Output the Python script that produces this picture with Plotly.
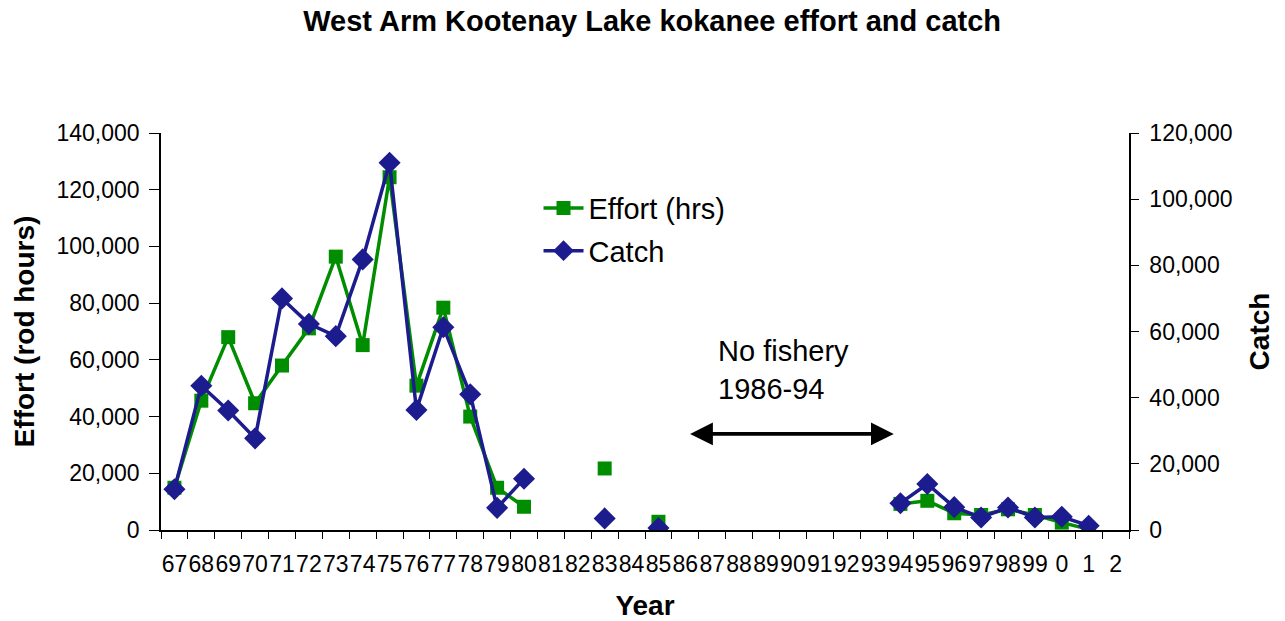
import plotly.graph_objects as go

# Season labels (two-digit years, 2000s written as 0, 1, 2)
years = [str(y) for y in range(67, 100)] + ["0", "1", "2"]

# Angler effort in rod hours (None = no survey / no fishery)
effort = [14900, 45600, 68000, 44700, 58000, 71100, 96400, 65200, 124400, 50900,
          78400, 40000, 14900, 8200, None, None, 21700, None, 2900,
          None, None, None, None, None, None, None, None,
          9200, 10300, 5900, 5300, 7300, 5300, 2600, 300, None]

# Kokanee catch (number of fish)
catch = [12300, 43600, 36100, 27700, 70000, 62300, 58600, 81800, 111000, 36300,
         61300, 41000, 6700, 15500, None, None, 3500, None, 600,
         None, None, None, None, None, None, None, None,
         8100, 13900, 6900, 3800, 6800, 3800, 4000, 1300, None]

FONT = "Liberation Sans, Arial, sans-serif"
GREEN = "#008E00"
NAVY = "#1C1C8E"
n = len(years)

fig = go.Figure()
fig.add_trace(go.Scatter(
    x=years, y=effort, name="Effort (hrs)", mode="lines+markers",
    line=dict(color=GREEN, width=3.5),
    marker=dict(symbol="square", size=14, color=GREEN),
    connectgaps=False, legendgroup="a", yaxis="y"))
fig.add_trace(go.Scatter(
    x=years, y=catch, name="Catch", mode="lines+markers",
    line=dict(color=NAVY, width=3.5),
    marker=dict(symbol="diamond", size=17, color=NAVY),
    connectgaps=False, legendgroup="b", yaxis="y2"))

tickfont = dict(family=FONT, size=23, color="black")
titlefont = dict(family=FONT, size=28, color="black", weight="bold")

fig.update_layout(
    width=1285, height=621,
    margin=dict(l=161, r=156, t=133, b=91),
    paper_bgcolor="white", plot_bgcolor="white",
    title=dict(text="<b>West Arm Kootenay Lake kokanee effort and catch</b>",
               x=0.5075, xanchor="center", y=0.967, yanchor="middle",
               font=dict(family=FONT, size=29, color="black")),
    xaxis=dict(type="category", categoryorder="array", categoryarray=years,
               range=[-0.5, n - 0.5], showgrid=False, zeroline=False,
               showline=True, linecolor="black", linewidth=1.5,
               tickmode="array", tickvals=years, ticktext=years,
               ticks="outside", ticklen=7, tickwidth=1.3, tickcolor="black",
               tickson="boundaries", tickangle=0, tickfont=tickfont,
               ticklabelstandoff=13, automargin=False,
               title=dict(text="Year", font=titlefont, standoff=19)),
    xaxis2=dict(overlaying="x", anchor="y", range=[-0.5, n - 0.5],
                tickmode="linear", tick0=-0.5, dtick=1,
                ticks="inside", ticklen=7, tickwidth=1.3, tickcolor="black",
                showticklabels=False, showgrid=False, zeroline=False,
                showline=False, side="bottom"),
    yaxis=dict(range=[0, 140000], dtick=20000, tickformat=",",
               showgrid=False, zeroline=False, showline=True,
               linecolor="black", linewidth=1.5,
               ticks="outside", ticklen=10, tickwidth=1.3, tickcolor="black",
               tickfont=tickfont, ticklabelstandoff=5, automargin=False,
               title=dict(text="Effort (rod hours)", font=titlefont, standoff=14)),
    yaxis3=dict(overlaying="y", anchor="x", side="left", range=[0, 140000],
                dtick=20000, ticks="inside", ticklen=6, tickwidth=1.3,
                tickcolor="black", showticklabels=False, showgrid=False,
                zeroline=False, showline=False),
    yaxis2=dict(overlaying="y", side="right", anchor="x", range=[0, 120000],
                dtick=20000, tickformat=",", showgrid=False, zeroline=False,
                showline=True, linecolor="black", linewidth=1.5,
                ticks="outside", ticklen=8, tickwidth=1.3, tickcolor="black",
                tickfont=tickfont, ticklabelstandoff=6, automargin=False,
                title=dict(text="Catch", font=titlefont, standoff=18)),
    yaxis4=dict(overlaying="y", anchor="x", side="right", range=[0, 120000],
                dtick=20000, ticks="inside", ticklen=8, tickwidth=1.3,
                tickcolor="black", showticklabels=False, showgrid=False,
                zeroline=False, showline=False),
    legend=dict(x=0.39, y=0.875, xanchor="left", yanchor="top",
                bgcolor="rgba(0,0,0,0)", borderwidth=0,
                font=dict(family=FONT, size=29, color="black"),
                tracegroupgap=2, itemwidth=40),
    showlegend=True,
)

# Gap in the record: no fishery 1986-94
fig.add_annotation(text="No fishery<br>1986-94", xref="paper", yref="paper",
                   x=0.573, y=0.403, xanchor="left", yanchor="middle",
                   align="left", showarrow=False,
                   font=dict(family=FONT, size=29, color="black"))
fig.add_annotation(xref="x domain", yref="y domain",
                   axref="x domain", ayref="y domain",
                   x=0.757, y=0.242, ax=0.545, ay=0.242, text="",
                   showarrow=True, arrowside="end+start", arrowhead=2,
                   arrowsize=1.2, arrowwidth=3.8, arrowcolor="black")

fig.write_html("out.html")
